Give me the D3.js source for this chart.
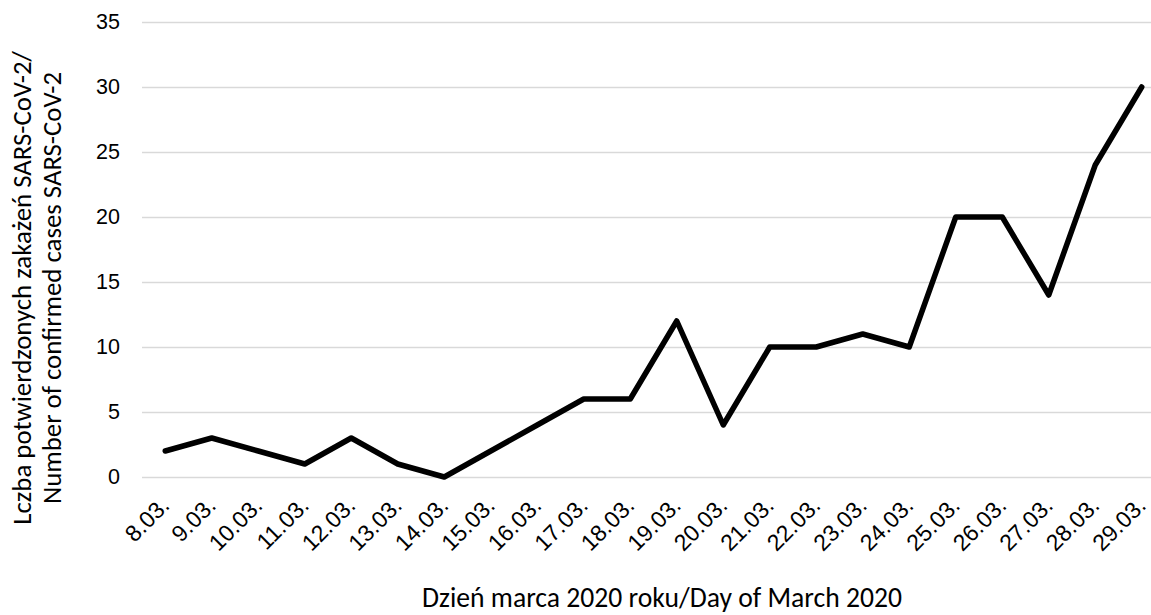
<!DOCTYPE html>
<html>
<head>
<meta charset="utf-8">
<script src="https://cdn.jsdelivr.net/npm/d3@7"></script>
<style>
  html, body { margin: 0; padding: 0; background: #fff; }
  svg { display: block; font-family: Carlito, Lato, "Open Sans", sans-serif; }
</style>
</head>
<body>
<svg id="chart" width="1151" height="615"></svg>
<script>
// Daily confirmed SARS-CoV-2 cases, March 2020
const days = ["8.03.", "9.03.", "10.03.", "11.03.", "12.03.", "13.03.", "14.03.", "15.03.",
  "16.03.", "17.03.", "18.03.", "19.03.", "20.03.", "21.03.", "22.03.", "23.03.",
  "24.03.", "25.03.", "26.03.", "27.03.", "28.03.", "29.03."];
const cases = [2, 3, 2, 1, 3, 1, 0, 2, 4, 6, 6, 12, 4, 10, 10, 11, 10, 20, 20, 14, 24, 30];
const yTicks = [0, 5, 10, 15, 20, 25, 30, 35];
const xTitle = "Dzień marca 2020 roku/Day of March 2020";
const yTitleLines = ["Lczba potwierdzonych zakażeń SARS-CoV-2/", "Number of confirmed cases SARS-CoV-2"];

const svg = d3.select("#chart");
// the plot area runs past the right edge of the canvas
const plot = { left: 142, right: 1165, top: 22, bottom: 477 };

const x = d3.scalePoint().domain(days).range([plot.left, plot.right]).padding(0.5);
const y = d3.scaleLinear().domain([0, 35]).range([plot.bottom, plot.top]);

// horizontal gridlines and value labels
const yAxis = d3.axisLeft(y).tickValues(yTicks).tickSize(-(plot.right - plot.left)).tickPadding(22);
const gy = svg.append("g").attr("transform", `translate(${plot.left},0)`).call(yAxis);
gy.select(".domain").remove();
gy.selectAll(".tick line").attr("stroke", "#d9d9d9").attr("stroke-width", 1.5);
gy.selectAll(".tick text").attr("font-size", 21.5).attr("fill", "#000");

// category labels, rotated 45 degrees and ending at their tick
const xAxis = d3.axisBottom(x).tickSize(0).tickPadding(0);
const gx = svg.append("g").attr("transform", `translate(0,${plot.bottom})`).call(xAxis);
gx.select(".domain").remove();
gx.selectAll(".tick text")
  .attr("font-size", 23)
  .attr("fill", "#000")
  .attr("text-anchor", "end")
  .attr("dy", null)
  .attr("y", null)
  .attr("transform", "translate(5,30) rotate(-45)");

// case line
const line = d3.line().x((d, i) => x(days[i])).y(d => y(d));
svg.append("path")
  .datum(cases)
  .attr("d", line)
  .attr("fill", "none")
  .attr("stroke", "#000")
  .attr("stroke-width", 5.5)
  .attr("stroke-linejoin", "round")
  .attr("stroke-linecap", "round");

// scale a text element so its run length equals the given width
function fitWidth(sel, width) {
  const base = 20;
  sel.attr("font-size", base);
  const len = sel.node().getComputedTextLength();
  const size = base * width / len;
  sel.attr("font-size", size);
  return size;
}

// axis titles
const xt = svg.append("text")
  .attr("x", 662).attr("y", 607)
  .attr("text-anchor", "middle")
  .text(xTitle);
fitWidth(xt, 480);

const yt = svg.append("g").attr("transform", "translate(0,288) rotate(-90)");
const yLines = yt.selectAll("text").data(yTitleLines).join("text")
  .attr("x", 0)
  .attr("y", (d, i) => 31 + i * 30)
  .attr("text-anchor", "middle")
  .text(d => d);
const ySize = fitWidth(yLines.filter((d, i) => i === 0), 474);
yLines.attr("font-size", ySize);
</script>
</body>
</html>
